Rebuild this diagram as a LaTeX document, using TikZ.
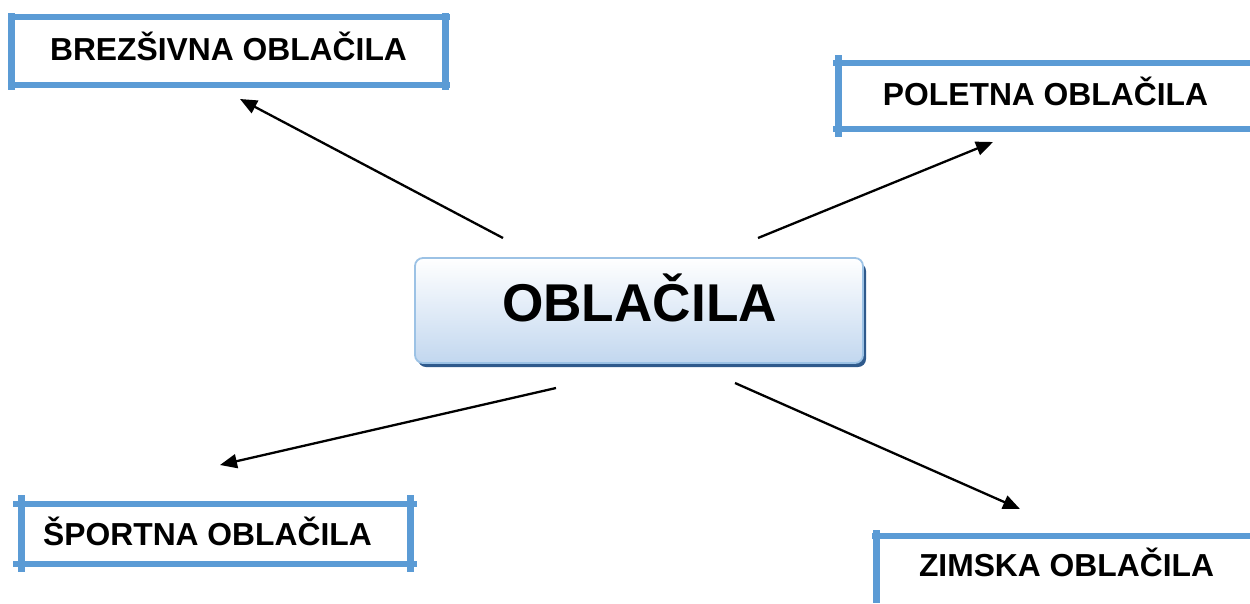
\documentclass[tikz,border=0pt]{standalone}
\usepackage{fontspec}
\setmainfont{Liberation Sans}
\usetikzlibrary{arrows.meta}
\definecolor{frameblue}{HTML}{5B9BD5}
\definecolor{coretop}{HTML}{FFFFFF}
\definecolor{corebot}{HTML}{C2D7EF}
\definecolor{coreline}{HTML}{9CC2E5}
\definecolor{coreshadow}{HTML}{2F5A8C}
\tikzset{
  frameline/.style={draw=frameblue, line width=6pt, line cap=butt},
  framevert/.style={draw=frameblue, line width=7pt, line cap=butt},
  label/.style={inner sep=0pt, anchor=base, font=\fontsize{31.8}{38}\selectfont\bfseries},
  corelabel/.style={inner sep=0pt, anchor=base, font=\fontsize{53.2}{60}\selectfont\bfseries},
  conn/.style={draw=black, line width=2.3pt, -{Triangle[length=17pt,width=14pt]}}
}
\begin{document}
\begin{tikzpicture}[x=1pt,y=-1pt]
\useasboundingbox (0,0) rectangle (1250,603);
% box 1 frame
\draw[frameline] (8,16.5) -- (450,16.5);
\draw[frameline] (8,85) -- (450,85);
\draw[framevert] (11.5,13) -- (11.5,90);
\draw[framevert] (445,13) -- (445,90);
\node[label] (brez) at (228.5,60) {BREZŠIVNA OBLAČILA};
% box 2 frame
\draw[frameline] (833,62.5) -- (1250,62.5);
\draw[frameline] (833,128.5) -- (1250,128.5);
\draw[framevert] (838.5,55) -- (838.5,137);
\node[label] (polet) at (1045.5,105) {POLETNA OBLAČILA};
% box 4 frame
\draw[frameline] (13,503.5) -- (417,503.5);
\draw[frameline] (13,563.5) -- (417,563.5);
\draw[framevert] (21.5,495) -- (21.5,572);
\draw[framevert] (410,495) -- (410,572);
\node[label] (sport) at (207.5,545) {ŠPORTNA OBLAČILA};
% box 5 frame
\draw[frameline] (872,535.5) -- (1250,535.5);
\draw[framevert] (876.5,530) -- (876.5,603);
\node[label] (zim) at (1066.5,576.7) {ZIMSKA OBLAČILA};
% central box
\fill[coreshadow, rounded corners=8pt] (418,263) rectangle (866,367);
\shade[top color=coretop, bottom color=corebot, rounded corners=8pt] (415,258) rectangle (863,363);
\draw[coreline, line width=1.8pt, rounded corners=8pt] (415,258) rectangle (863,363);
\node[corelabel] (core) at (639.5,321.7) {OBLAČILA};
% connector ends
\coordinate (s1) at (503,238);
\coordinate (e1) at (240,99);
\coordinate (s2) at (758,238);
\coordinate (e2) at (993,142);
\coordinate (s3) at (556,388);
\coordinate (e3) at (220,465);
\coordinate (s4) at (735,383);
\coordinate (e4) at (1020,509);
\draw[conn] (s1) -- (e1);
\draw[conn] (s2) -- (e2);
\draw[conn] (s3) -- (e3);
\draw[conn] (s4) -- (e4);
\end{tikzpicture}
\end{document}
